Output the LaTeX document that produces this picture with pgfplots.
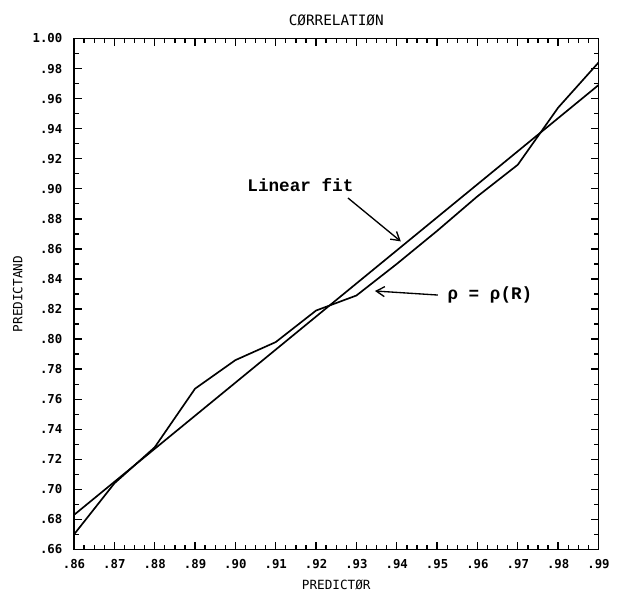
\documentclass[border=0pt]{standalone}
\usepackage{fontspec}
\usepackage{pgfplots}
\pgfplotsset{compat=1.18}
\usetikzlibrary{arrows.meta}
\newfontfamily\plotterfont{DejaVu Sans Mono}
\newfontfamily\typefont{Liberation Mono}

% predictand as a function of the predictor, with its straight-line fit
\pgfplotstableread{
x     y
0.86  0.670
0.87  0.704
0.88  0.728
0.89  0.767
0.90  0.786
0.91  0.798
0.92  0.819
0.93  0.829
0.94  0.850
0.95  0.872
0.96  0.895
0.97  0.916
0.98  0.954
0.99  0.984
}\rhodata

\pgfplotstableread{
x     y
0.86  0.683
0.99  0.969
}\fitdata

\begin{document}
\begin{tikzpicture}
\useasboundingbox (0,0) rectangle (372.6pt,354pt);
\begin{axis}[
  at={(44.4pt,24.3pt)}, anchor=south west,
  scale only axis, width=314.7pt, height=306.6pt,
  xmin=0.86, xmax=0.99, ymin=0.66, ymax=1.00,
  xtick={0.86,0.87,0.88,0.89,0.90,0.91,0.92,0.93,0.94,0.95,0.96,0.97,0.98,0.99},
  xticklabels={.86,.87,.88,.89,.90,.91,.92,.93,.94,.95,.96,.97,.98,.99},
  ytick={0.66,0.68,0.70,0.72,0.74,0.76,0.78,0.80,0.82,0.84,0.86,0.88,0.90,0.92,0.94,0.96,0.98,1.00},
  yticklabels={.66,.68,.70,.72,.74,.76,.78,.80,.82,.84,.86,.88,.90,.92,.94,.96,.98,1.00},
  minor x tick num=3, minor y tick num=1,
  tick align=inside, major tick length=4.8pt, minor tick length=3pt,
  tick style={line width=0.8pt, black},
  axis line style={line width=1.1pt},
  ticklabel style={font=\plotterfont\bfseries\fontsize{7.4}{8}\selectfont},
  xticklabel style={anchor=base, yshift=-11.1pt},
  yticklabel style={anchor=east, xshift=-3.5pt},
  title={CØRRELATIØN},
  title style={font=\plotterfont\fontsize{8.6}{9}\selectfont, at={(axis description cs:0.5,1.0264)}, anchor=base, yshift=-6pt},
  xlabel={PREDICTØR},
  xlabel style={font=\plotterfont\fontsize{7.6}{8}\selectfont, at={(axis description cs:0.5,-0.0773)}, anchor=base},
  ylabel={PREDICTAND},
  ylabel style={font=\plotterfont\fontsize{7.6}{8}\selectfont, at={(axis description cs:-0.107,0.5)}, anchor=center},
]
\addplot[black, line width=1pt] table[x=x, y=y] {\fitdata};
\addplot[black, line width=1pt] table[x=x, y=y] {\rhodata};

\node[font=\typefont\bfseries\fontsize{10.6}{12}\selectfont, anchor=base west, inner sep=0pt]
  at (axis cs:0.9029,0.8985) {Linear fit};
\draw[black, line width=0.8pt, -{Straight Barb[length=5pt,width=6pt]}]
  (axis cs:0.9279,0.8939) -- (axis cs:0.9410,0.8650);

\node[font=\typefont\bfseries\fontsize{10.6}{12}\selectfont, anchor=west, inner sep=0pt]
  at (axis cs:0.9525,0.8293) {ρ = ρ(R)};
\draw[black, line width=0.8pt, -{Straight Barb[length=5pt,width=6pt]}]
  (axis cs:0.9502,0.8293) -- (axis cs:0.9346,0.8320);
\end{axis}
\end{tikzpicture}
\end{document}
